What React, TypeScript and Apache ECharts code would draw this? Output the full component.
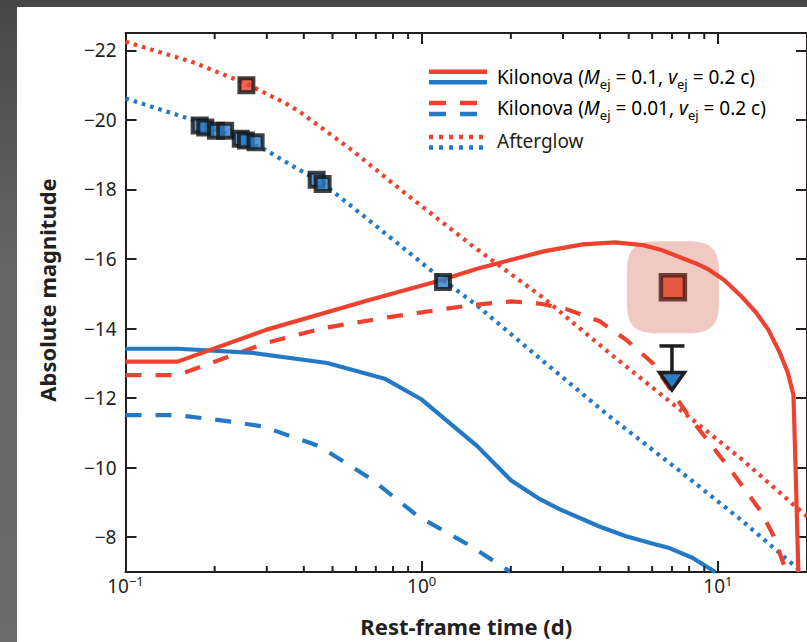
import React, { useEffect, useRef } from 'react';
import * as echarts from 'echarts';

const FONT = "'Noto Sans', 'Open Sans', sans-serif";
const INK = '#231F20';
const RED = '#EE4230';
const BLUE = '#2479C4';

// x range (rest-frame days) and y range (absolute magnitude)
const X_MIN = 0.1;
const X_MAX = 20;
const Y_TOP = -22.5;
const Y_BOTTOM = -7;
const MINOR_X_TICKS = [0.2, 0.3, 0.4, 0.5, 0.6, 0.7, 0.8, 0.9, 2, 3, 4, 5, 6, 7, 8, 9];

// Kilonova Mej = 0.1, vej = 0.2c
const kn01Red = [
  [0.1, -13.05], [0.15, -13.05], [0.3, -13.97], [0.67, -14.83], [1.13, -15.36], [1.54, -15.72],
  [2.58, -16.22], [3.5, -16.42], [4.5, -16.48], [5.6, -16.4], [6.5, -16.25], [7.2, -16.1], [8.4, -15.88],
  [9.3, -15.7], [10.5, -15.4], [12.0, -14.93], [13.5, -14.45], [14.8, -13.97], [16.2, -13.3],
  [17.2, -12.75], [18.0, -12.1], [18.3, -10.0], [18.7, -7.0],
];
const kn01Blue = [
  [0.1, -13.42], [0.15, -13.42], [0.27, -13.3], [0.48, -13.01], [0.75, -12.56], [1.0, -11.96],
  [1.54, -10.62], [2.0, -9.64], [2.5, -9.1], [2.93, -8.8], [4.0, -8.3], [4.9, -8.03], [6.0, -7.82],
  [6.8, -7.7], [8.2, -7.41], [9.8, -7.0],
];
// Kilonova Mej = 0.01, vej = 0.2c
const kn001Red = [
  [0.1, -12.66], [0.15, -12.66], [0.3, -13.59], [0.47, -14.02], [0.75, -14.31], [1.25, -14.59],
  [1.54, -14.69], [2.0, -14.78], [2.5, -14.72], [3.08, -14.56], [3.99, -14.21], [4.9, -13.68],
  [6.02, -13.01], [7.98, -11.48], [10.9, -10.0], [14.06, -8.71], [15.4, -8.05], [17.05, -7.0],
];
const kn001Blue = [
  [0.1, -11.51], [0.15, -11.51], [0.22, -11.34], [0.29, -11.19], [0.45, -10.62], [0.68, -9.66],
  [0.97, -8.61], [1.46, -7.75], [2.0, -7.0],
];
// Afterglow
const agRed = [
  [0.1, -22.25], [0.17, -21.65], [0.256, -21.04], [0.29, -20.81], [0.347, -20.48], [0.385, -20.25],
  [0.58, -19.14], [0.85, -17.99], [1.5, -16.35], [2.58, -14.88], [4.3, -13.3], [7.2, -11.77],
  [12.05, -10.24], [18.2, -8.9], [20, -8.6],
];
const agBlue = [
  [0.1, -20.62], [0.169, -20.0], [0.297, -19.14], [0.385, -18.57], [0.46, -18.2], [0.676, -17.06],
  [0.97, -15.98], [1.18, -15.4], [1.54, -14.66], [2.58, -13.05], [4.3, -11.48], [7.2, -10.0],
  [12.05, -8.48], [19.2, -7.0],
];
// Observed points
const obsBlue = [
  [0.178, -19.84], [0.186, -19.78], [0.202, -19.69], [0.217, -19.69], [0.245, -19.46],
  [0.255, -19.41], [0.275, -19.36], [0.442, -18.28], [0.463, -18.16], [1.18, -15.34],
];
const obsRed = [[0.256, -21.0]];
const obsRedHighlighted = [[7.05, -15.19]];
const upperLimitBlue = [[7.0, -13.5]];

const SQUIRCLE =
  'path://M30,0L62,0C84,0 92,8 92,30L92,62C92,84 84,92 62,92L30,92C8,92 0,84 0,62L0,30C0,8 8,0 30,0Z';

const xLabel = (v: number) => {
  const l = Math.log10(v);
  const e = Math.round(l);
  if (Math.abs(l - e) > 1e-6 || e < -1 || e > 1) return '';
  return '{b|10}{s|' + (e < 0 ? '\u2212' + -e : String(e)) + '}';
};
const yLabel = (v: number) => {
  if (Math.abs(v - Math.round(v)) > 1e-6) return '';
  const r = Math.round(v);
  if (r % 2 !== 0) return '';
  return r < 0 ? '\u2212' + -r : String(r);
};

const lineSeries = (data: number[][], color: string, type: any, width = 4.2) => ({
  type: 'line',
  data,
  showSymbol: false,
  symbol: 'none',
  smooth: false,
  clip: true,
  z: 2,
  lineStyle: { color, width, type, cap: 'butt', join: 'round' },
  silent: true,
});

const legendText = (m: string) =>
  '{t|Kilonova (}{i|M}{s|ej}{t| = ' + m + ', }{i|v}{s|ej}{t| = 0.2 c)}';

const legendRich = {
  t: { fontFamily: FONT, fontSize: 19, color: INK, lineHeight: 26 },
  i: { fontFamily: FONT, fontSize: 19, fontStyle: 'italic', color: INK, lineHeight: 26 },
  s: { fontFamily: FONT, fontSize: 13, color: INK, lineHeight: 12, verticalAlign: 'bottom' },
};

const LX1 = 429;
const LX2 = 487;

const axisCommon = {
  axisLine: { show: true, onZero: false, lineStyle: { color: INK, width: 2 } },
  axisTick: { show: true, inside: true, length: 11, lineStyle: { color: INK, width: 2 } },
  splitLine: { show: false },
  minorTick: { show: false },
};

export default function App() {
  const ref = useRef<HTMLDivElement>(null);
  useEffect(() => {
    const chart = echarts.init(ref.current!, null, { renderer: 'svg' });
    const option: any = {
      animation: false,
      backgroundColor: '#ffffff',
      grid: { left: 125.5, top: 33, right: -5.4, bottom: 69.3, containLabel: false },
      xAxis: [
        {
          type: 'log',
          logBase: 10,
          min: X_MIN,
          max: X_MAX,
          position: 'bottom',
          ...axisCommon,
          axisLabel: {
            formatter: xLabel,
            margin: 2,
            showMaxLabel: false,
            rich: {
              b: { fontFamily: FONT, fontSize: 19, color: INK, lineHeight: 24 },
              s: { fontFamily: FONT, fontSize: 13, color: INK, lineHeight: 10, verticalAlign: 'top' },
            },
          },
          name: 'Rest-frame time (d)',
          nameLocation: 'middle',
          nameGap: 43,
          nameTextStyle: { fontFamily: FONT, fontSize: 22, fontWeight: 'bold', color: INK },
        },
        {
          type: 'log',
          logBase: 10,
          min: X_MIN,
          max: X_MAX,
          position: 'top',
          ...axisCommon,
          axisLabel: { show: false },
        },
      ],
      yAxis: [
        {
          type: 'value',
          inverse: true,
          min: Y_TOP,
          max: Y_BOTTOM,
          splitNumber: 8,
          position: 'left',
          ...axisCommon,
          axisLabel: {
            formatter: yLabel,
            margin: 9,
            fontFamily: FONT,
            fontSize: 19,
            color: INK,
          },
        },
        {
          type: 'value',
          inverse: true,
          min: Y_TOP,
          max: Y_BOTTOM,
          splitNumber: 8,
          position: 'right',
          ...axisCommon,
          axisLabel: { show: false },
        },
      ],
      series: [
        {
          type: 'custom',
          silent: true,
          clip: false,
          z: 5,
          data: MINOR_X_TICKS.map((v) => [v, Y_BOTTOM]),
          encode: { x: 0, y: 1 },
          renderItem: (params: any, api: any) => {
            const p = api.coord([api.value(0), api.value(1)]);
            const cs = params.coordSys;
            const top = cs.y;
            const bottom = cs.y + cs.height;
            const st = { stroke: INK, lineWidth: 2 };
            return {
              type: 'group',
              children: [
                { type: 'line', shape: { x1: p[0], y1: bottom, x2: p[0], y2: bottom - 6 }, style: st },
                { type: 'line', shape: { x1: p[0], y1: top, x2: p[0], y2: top + 6 }, style: st },
              ],
            };
          },
        },
        {
          type: 'scatter',
          data: obsRedHighlighted,
          symbol: SQUIRCLE,
          symbolSize: 92,
          itemStyle: { color: '#ECBDB3' },
          z: 1,
          silent: true,
        },
        lineSeries(agRed, RED, [3.6, 5]),
        lineSeries(agBlue, BLUE, [3.6, 5]),
        lineSeries(kn001Blue, BLUE, [16, 14]),
        lineSeries(kn001Red, RED, [16, 14]),
        lineSeries(kn01Blue, BLUE, 'solid'),
        lineSeries(kn01Red, RED, 'solid'),
        {
          type: 'scatter',
          data: obsBlue,
          symbol: 'rect',
          symbolSize: 14,
          itemStyle: { color: '#2A7EC9', borderColor: '#141414', borderWidth: 4 },
          z: 4,
          silent: true,
        },
        {
          type: 'scatter',
          data: obsRed,
          symbol: 'rect',
          symbolSize: 14,
          itemStyle: { color: '#E8402A', borderColor: '#141414', borderWidth: 4 },
          z: 4,
          silent: true,
        },
        {
          type: 'scatter',
          data: obsRedHighlighted,
          symbol: 'rect',
          symbolSize: 24,
          itemStyle: { color: '#E23B22', borderColor: '#4E1A12', borderWidth: 4.5 },
          z: 4,
          silent: true,
        },
        {
          type: 'custom',
          silent: true,
          z: 4,
          data: upperLimitBlue,
          encode: { x: 0, y: 1 },
          renderItem: (params: any, api: any) => {
            const p = api.coord([api.value(0), api.value(1)]);
            const x = p[0];
            const y = p[1];
            return {
              type: 'group',
              children: [
                { type: 'line', shape: { x1: x - 12.5, y1: y, x2: x + 12.5, y2: y }, style: { stroke: '#1E1E1E', lineWidth: 3.5 } },
                { type: 'line', shape: { x1: x, y1: y, x2: x, y2: y + 27 }, style: { stroke: '#1E1E1E', lineWidth: 3.5 } },
                {
                  type: 'polygon',
                  shape: { points: [[x - 12.5, y + 26.5], [x + 12.5, y + 26.5], [x, y + 44]] },
                  style: { fill: '#2A7EC9', stroke: '#1E1E1E', lineWidth: 3.5, lineJoin: 'miter' },
                },
              ],
            };
          },
        },
      ],
      graphic: [
        { type: 'rect', shape: { x: 0, y: 0, width: 807, height: 7 }, style: { fill: '#474747' }, z: 100, silent: true },
        {
          type: 'rect',
          shape: { x: 0, y: 0, width: 17, height: 642 },
          style: {
            fill: {
              type: 'linear', x: 0, y: 0, x2: 0, y2: 1,
              colorStops: [
                { offset: 0, color: '#474747' },
                { offset: 0.4, color: '#656565' },
                { offset: 1, color: '#6C6C6C' },
              ],
            },
          },
          z: 100,
          silent: true,
        },
        {
          type: 'text',
          x: 47,
          y: 290,
          rotation: Math.PI / 2,
          style: {
            text: 'Absolute magnitude',
            fontFamily: FONT,
            fontSize: 22,
            fontWeight: 'bold',
            fill: INK,
            align: 'center',
            verticalAlign: 'middle',
          },
          z: 100,
        },
        // legend
        { type: 'line', shape: { x1: LX1, y1: 71.7, x2: LX2, y2: 71.7 }, style: { stroke: RED, lineWidth: 4.5 }, z: 100 },
        { type: 'line', shape: { x1: LX1, y1: 82.3, x2: LX2, y2: 82.3 }, style: { stroke: BLUE, lineWidth: 4.5 }, z: 100 },
        { type: 'line', shape: { x1: LX1, y1: 103, x2: LX1 + 48, y2: 103 }, style: { stroke: RED, lineWidth: 4.5, lineDash: [17, 14] }, z: 100 },
        { type: 'line', shape: { x1: LX1, y1: 114, x2: LX1 + 48, y2: 114 }, style: { stroke: BLUE, lineWidth: 4.5, lineDash: [17, 14] }, z: 100 },
        { type: 'line', shape: { x1: LX1, y1: 137, x2: LX1 + 54, y2: 137 }, style: { stroke: RED, lineWidth: 4.5, lineDash: [4, 6] }, z: 100 },
        { type: 'line', shape: { x1: LX1, y1: 147.5, x2: LX1 + 54, y2: 147.5 }, style: { stroke: BLUE, lineWidth: 4.5, lineDash: [4, 6] }, z: 100 },
        {
          type: 'text', x: 497, y: 77,
          style: { text: legendText('0.1'), rich: legendRich, verticalAlign: 'middle', align: 'left' }, z: 100,
        },
        {
          type: 'text', x: 497, y: 108,
          style: { text: legendText('0.01'), rich: legendRich, verticalAlign: 'middle', align: 'left' }, z: 100,
        },
        {
          type: 'text', x: 497, y: 141,
          style: { text: 'Afterglow', fontFamily: FONT, fontSize: 19, fill: INK, verticalAlign: 'middle', align: 'left' }, z: 100,
        },
      ],
    };
    chart.setOption(option);
    return () => chart.dispose();
  }, []);
  return (
    <div
      ref={ref}
      style={{ position: 'fixed', left: 0, top: 0, width: 807, height: 642, background: '#fff' }}
    />
  );
}
